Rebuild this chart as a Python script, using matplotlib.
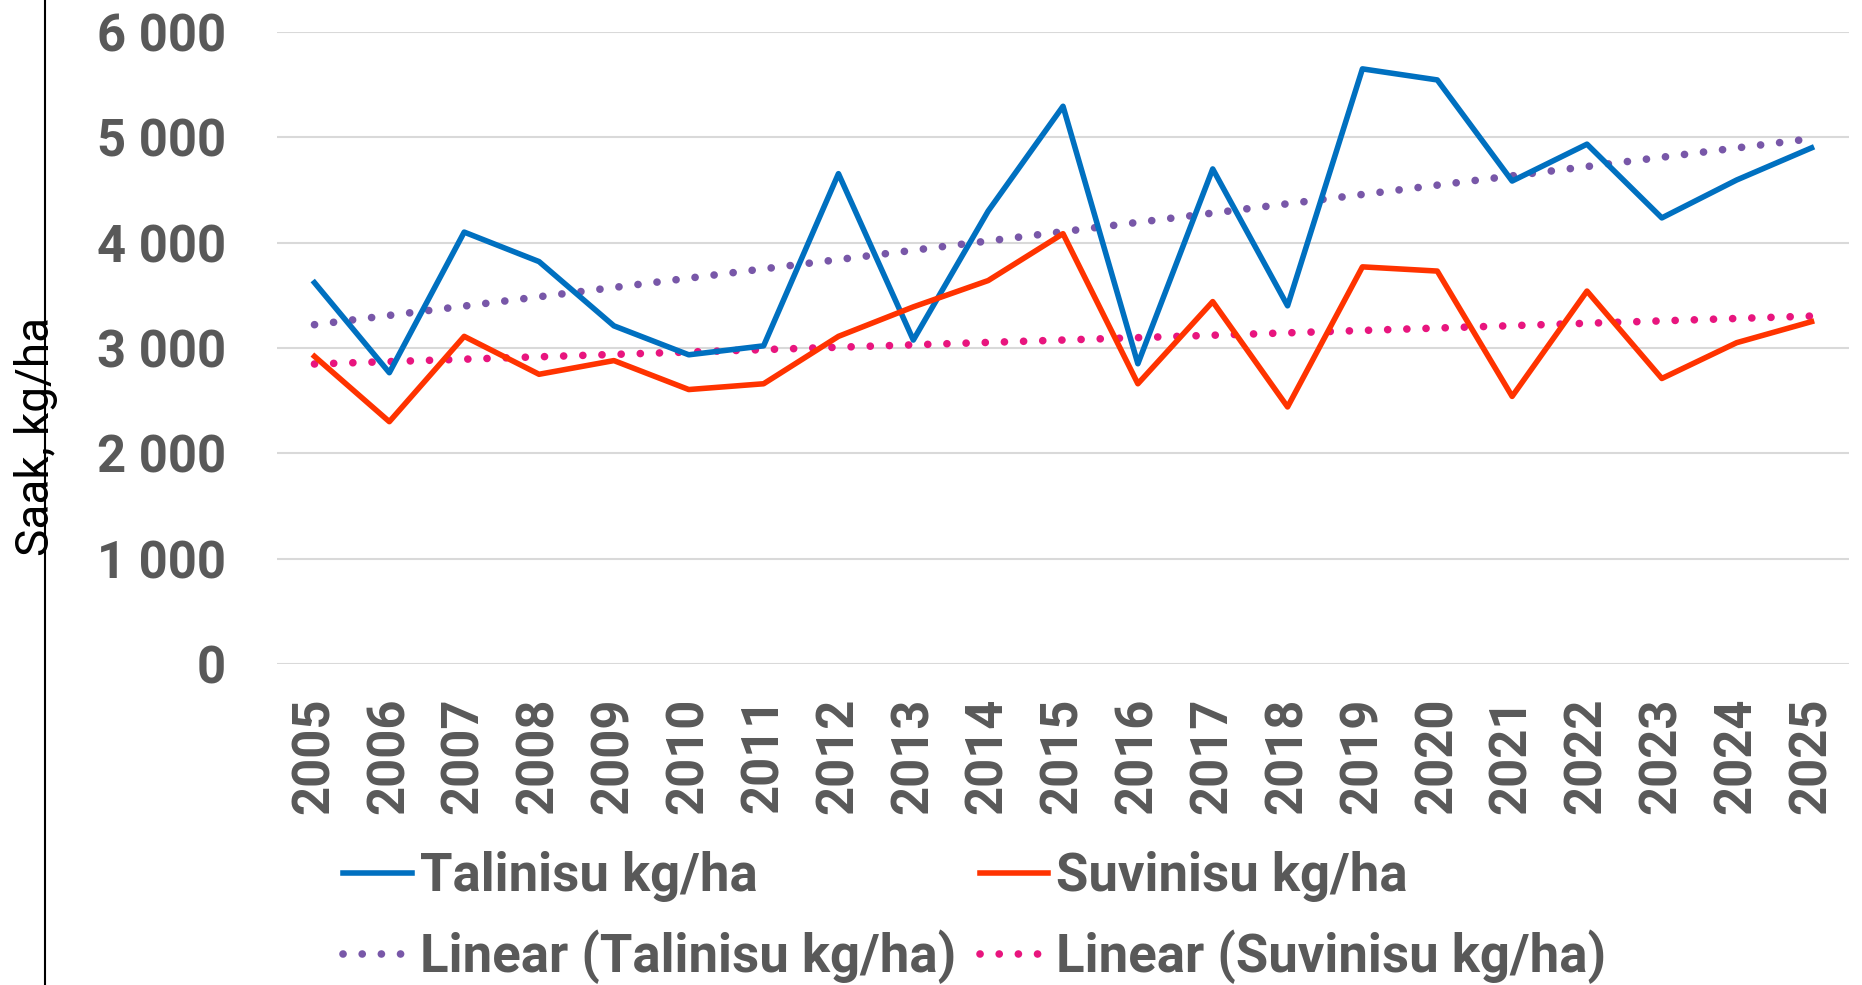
import numpy as np
import matplotlib
matplotlib.use('Agg')
import matplotlib.pyplot as plt
from matplotlib.ticker import FuncFormatter
from matplotlib.lines import Line2D

# Andmed (loetud jooniselt)
years = ['2005', '2006', '2007', '2008', '2009', '2010', '2011', '2012', '2013', '2014', '2015',
         '2016', '2017', '2018', '2019', '2020', '2021', '2022', '2023', '2024', '2025']
talinisu = [3620, 2765, 4100, 3820, 3210, 2935, 3020, 4655, 3075, 4300, 5295,
            2850, 4700, 3400, 5650, 5545, 4585, 4935, 4235, 4595, 4900]
suvinisu = [2920, 2300, 3110, 2750, 2880, 2605, 2660, 3110, 3390, 3640, 4085,
            2660, 3440, 2440, 3770, 3730, 2540, 3540, 2710, 3050, 3250]
yticks = [0, 1000, 2000, 3000, 4000, 5000, 6000]

plt.rcParams['font.family'] = ['Roboto', 'DejaVu Sans']

gray = '#595959'
x = np.arange(len(years))

# Lineaarsed trendid
tal_fit = np.polyval(np.polyfit(x, talinisu, 1), x)
suv_fit = np.polyval(np.polyfit(x, suvinisu, 1), x)

fig = plt.figure(figsize=(18.62, 9.85), dpi=100)
ax = fig.add_axes([0.1488, 0.326, 0.8442, 0.6415])

dots = (0, (0.01, 2.5))
ax.plot(x, talinisu, color='#0070C0', lw=4, label='Talinisu kg/ha', zorder=3)
ax.plot(x, tal_fit, color='#7857A8', lw=5.5, linestyle=dots,
        dash_capstyle='round', label='Linear (Talinisu kg/ha)', zorder=2)
ax.plot(x, suvinisu, color='#FF3300', lw=4, label='Suvinisu kg/ha', zorder=3)
ax.plot(x, suv_fit, color='#E8157E', lw=5.5, linestyle=dots,
        dash_capstyle='round', label='Linear (Suvinisu kg/ha)', zorder=2)

ax.set_xlim(-0.5, len(years) - 0.5)
ax.set_ylim(0, 6000)
ax.set_yticks(yticks)
ax.yaxis.set_major_formatter(FuncFormatter(lambda v, p: f'{int(v):,}'.replace(',', ' ')))
ax.set_xticks(x)
ax.set_xticklabels(years, rotation=90)
ax.grid(axis='y', color='#D9D9D9', lw=1.5)
ax.set_axisbelow(True)
for s in ax.spines.values():
    s.set_visible(False)
ax.tick_params(axis='both', length=0, labelsize=36.5, labelcolor=gray)
ax.tick_params(axis='y', pad=37)
ax.tick_params(axis='x', pad=24)
for lbl in ax.get_xticklabels() + ax.get_yticklabels():
    lbl.set_fontweight('bold')

# Telje pealkiri ja vertikaalne joon
fig.text(36 / 1862, 0.557, 'Saak, kg/ha', rotation=90, ha='center', va='center',
         fontsize=33, color='black')
fig.add_artist(Line2D([45 / 1862, 45 / 1862], [0, 1], color='black', lw=1.5))

leg = fig.legend(loc='upper left', bbox_to_anchor=(343 / 1862, 1 - 851 / 985), ncol=2,
                 frameon=False, fontsize=38, handlelength=1.3, handletextpad=0.15,
                 columnspacing=0.45, labelspacing=0.52, borderpad=0, borderaxespad=0)
for t in leg.get_texts():
    t.set_color(gray)
    t.set_fontweight('bold')

fig.savefig('out.png', dpi=100)
